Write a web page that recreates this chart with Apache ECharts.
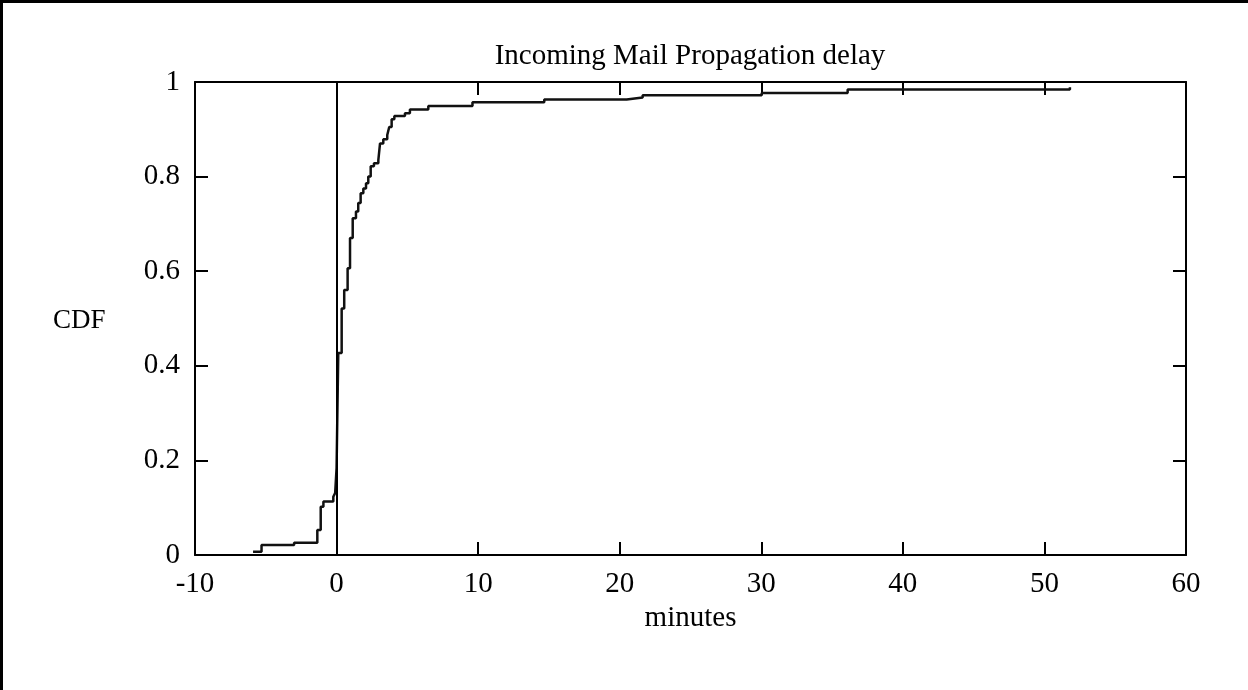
<!DOCTYPE html>
<html>
<head>
<meta charset="utf-8">
<style>
html,body{margin:0;padding:0;background:#fff;}
#c{width:1248px;height:690px;}
</style>
<script src="https://cdn.jsdelivr.net/npm/echarts@6/dist/echarts.min.js"></script>
</head>
<body>
<div id="c"></div>
<script>
// Delay in minutes at which the CDF steps up, and the CDF value after each step
const delayMinutes = [-5.9, -5.3, -3.0, -1.36, -1.12, -0.93, -0.23, -0.1, 0.0, 0.12, 0.36, 0.54, 0.78, 0.95, 1.14, 1.37, 1.53, 1.70, 1.89, 2.08, 2.24, 2.41, 2.64, 2.95, 3.07, 3.30, 3.58, 3.72, 3.89, 4.08, 4.83, 5.18, 6.48, 9.6, 14.67, 20.49, 21.62, 30.03, 36.1, 51.8];
const cdfValues = [0.007, 0.021, 0.026, 0.053, 0.102, 0.113, 0.123, 0.131, 0.184, 0.427, 0.521, 0.560, 0.606, 0.670, 0.712, 0.726, 0.744, 0.765, 0.775, 0.786, 0.800, 0.822, 0.828, 0.835, 0.870, 0.879, 0.888, 0.905, 0.921, 0.928, 0.934, 0.942, 0.949, 0.957, 0.963, 0.967, 0.972, 0.977, 0.984, 0.989];
const xTicks = [-10, 0, 10, 20, 30, 40, 50, 60];
const yTicks = [0, 0.2, 0.4, 0.6, 0.8, 1];
const titleText = 'Incoming Mail Propagation delay';
const xName = 'minutes';
const yName = 'CDF';

const FONT = '"Liberation Serif", "DejaVu Serif", serif';
const FS = 29;
const points = delayMinutes.map((x, i) => [x, cdfValues[i]]);

const chart = echarts.init(document.getElementById('c'), null, {renderer: 'canvas'});
const axisCommon = {
  type: 'value',
  axisLine: {show: true, onZero: false, lineStyle: {color: '#000', width: 2}},
  axisTick: {show: true, inside: true, length: 13, lineStyle: {color: '#000', width: 2}},
  splitLine: {show: false}
};
chart.setOption({
  animation: false,
  backgroundColor: '#fff',
  title: {
    text: titleText, left: 690, textAlign: 'center', top: 42, padding: 0,
    textStyle: {fontFamily: FONT, fontSize: FS, fontWeight: 'normal', color: '#000'}
  },
  grid: {left: 195, right: 62, top: 82, bottom: 135},
  xAxis: [
    Object.assign({}, axisCommon, {
      position: 'bottom', min: xTicks[0], max: xTicks[xTicks.length - 1], interval: 10,
      name: xName, nameLocation: 'middle', nameGap: 44,
      nameTextStyle: {fontFamily: FONT, fontSize: FS, color: '#000'},
      axisLabel: {margin: 15, fontFamily: FONT, fontSize: FS, color: '#000'}
    }),
    Object.assign({}, axisCommon, {
      position: 'top', min: xTicks[0], max: xTicks[xTicks.length - 1], interval: 10,
      axisLabel: {show: false}
    })
  ],
  yAxis: [
    Object.assign({}, axisCommon, {
      position: 'left', min: yTicks[0], max: yTicks[yTicks.length - 1], interval: 0.2,
      axisLabel: {margin: 15, fontFamily: FONT, fontSize: FS, color: '#000',
        formatter: v => String(Math.round(v * 10) / 10)}
    }),
    Object.assign({}, axisCommon, {
      position: 'right', min: yTicks[0], max: yTicks[yTicks.length - 1], interval: 0.2,
      axisLabel: {show: false}
    })
  ],
  graphic: [
    {type: 'rect', shape: {x: 0, y: 0, width: 1248, height: 3}, style: {fill: '#000'}},
    {type: 'rect', shape: {x: 0, y: 0, width: 3, height: 690}, style: {fill: '#000'}},
    {type: 'text', left: 53, top: 307, style: {text: yName, font: '27px ' + FONT, fill: '#000'}}
  ],
  series: [{
    type: 'line',
    data: points,
    step: 'end',
    symbol: 'none',
    lineStyle: {color: '#111', width: 2.5},
    markLine: {
      silent: true, symbol: 'none', label: {show: false},
      lineStyle: {color: '#000', width: 2, type: 'solid'},
      data: [{xAxis: 0}]
    }
  }]
});
</script>
</body>
</html>
